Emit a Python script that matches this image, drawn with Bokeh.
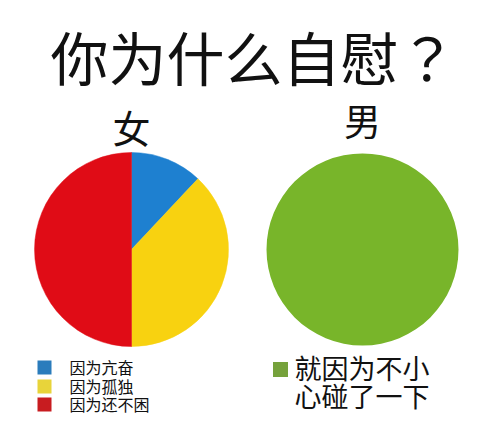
import math
from bokeh.plotting import figure
from bokeh.models import Range1d, ColumnDataSource
from bokeh.core.properties import value
from bokeh.embed import file_html
from bokeh.resources import INLINE

# ---- data ----
title_text = "你为什么自慰？"
female_label = "女"
male_label = "男"
female_categories = ["因为亢奋", "因为孤独", "因为还不困"]
female_values = [12, 38, 50]
female_colors = ["#1e80d0", "#f8d210", "#e00c16"]
female_legend_colors = ["#2a7cbc", "#e8d43a", "#c81c20"]
male_categories = ["就因为不小心碰了一下"]
male_values = [100]
male_colors = ["#78b52a"]
male_legend_colors = ["#76a23c"]
male_label_lines = ["就因为不小", "心碰了一下"]

FONT = value("Noto Sans CJK SC")
TITLE_FONT = value("Noto Sans CJK TC")
H = 433  # y_data = H - pixel_y

p = figure(width=474, height=417, output_backend="svg", toolbar_location=None,
           x_range=Range1d(0, 474), y_range=Range1d(H - 417, H),
           min_border=0, background_fill_color="white", border_fill_color="white")
p.axis.visible = False
p.grid.visible = False
p.outline_line_color = None


def pie(cx, cy, r, vals, colors):
    total = sum(vals)
    starts, ends = [], []
    a = math.pi / 2
    for v in vals:
        sweep = v / total * 2 * math.pi
        ends.append(a)
        starts.append(a - sweep)
        a -= sweep
    src = ColumnDataSource(dict(x=[cx] * len(vals), y=[cy] * len(vals),
                                s=starts, e=ends, c=colors))
    if len(vals) == 1:
        p.circle(x=cx, y=cy, radius=r, fill_color=colors[0], line_color=None)
    else:
        p.wedge(x="x", y="y", radius=r, start_angle="s", end_angle="e",
                fill_color="c", line_color="c", line_width=0.5, source=src)


pie(131, H - 249, 97, female_values, female_colors)
pie(362, H - 249, 96, male_values, male_colors)

# title and group labels
p.text(x=[50], y=[H - 55.5], text=[title_text], text_font=TITLE_FONT, text_font_size="58px",
       text_baseline="middle", text_align="left", text_color="#111111")
p.text(x=[131], y=[H - 125.5], text=[female_label], text_font=FONT, text_font_size="38px",
       text_baseline="middle", text_align="center", text_color="#111111")
p.text(x=[362], y=[H - 119], text=[male_label], text_font=FONT, text_font_size="37px",
       text_baseline="middle", text_align="center", text_color="#111111")

# left legend
p.scatter(x=[44] * 3, y=[H - 367, H - 386, H - 404], marker="square", size=14,
          fill_color=female_legend_colors, line_color=None)
p.text(x=[69] * 3, y=[H - 366, H - 385, H - 403], text=female_categories, text_font=FONT,
       text_font_size="16px", text_baseline="middle", text_align="left", text_color="#111111")

# right legend
p.scatter(x=[280], y=[H - 369], marker="square", size=15,
          fill_color=male_legend_colors, line_color=None)
p.text(x=[294, 294], y=[H - 367, H - 395], text=male_label_lines, text_font=FONT,
       text_font_size="27px", text_baseline="middle", text_align="left", text_color="#111111")

open("out.html", "w").write(file_html(p, INLINE))
